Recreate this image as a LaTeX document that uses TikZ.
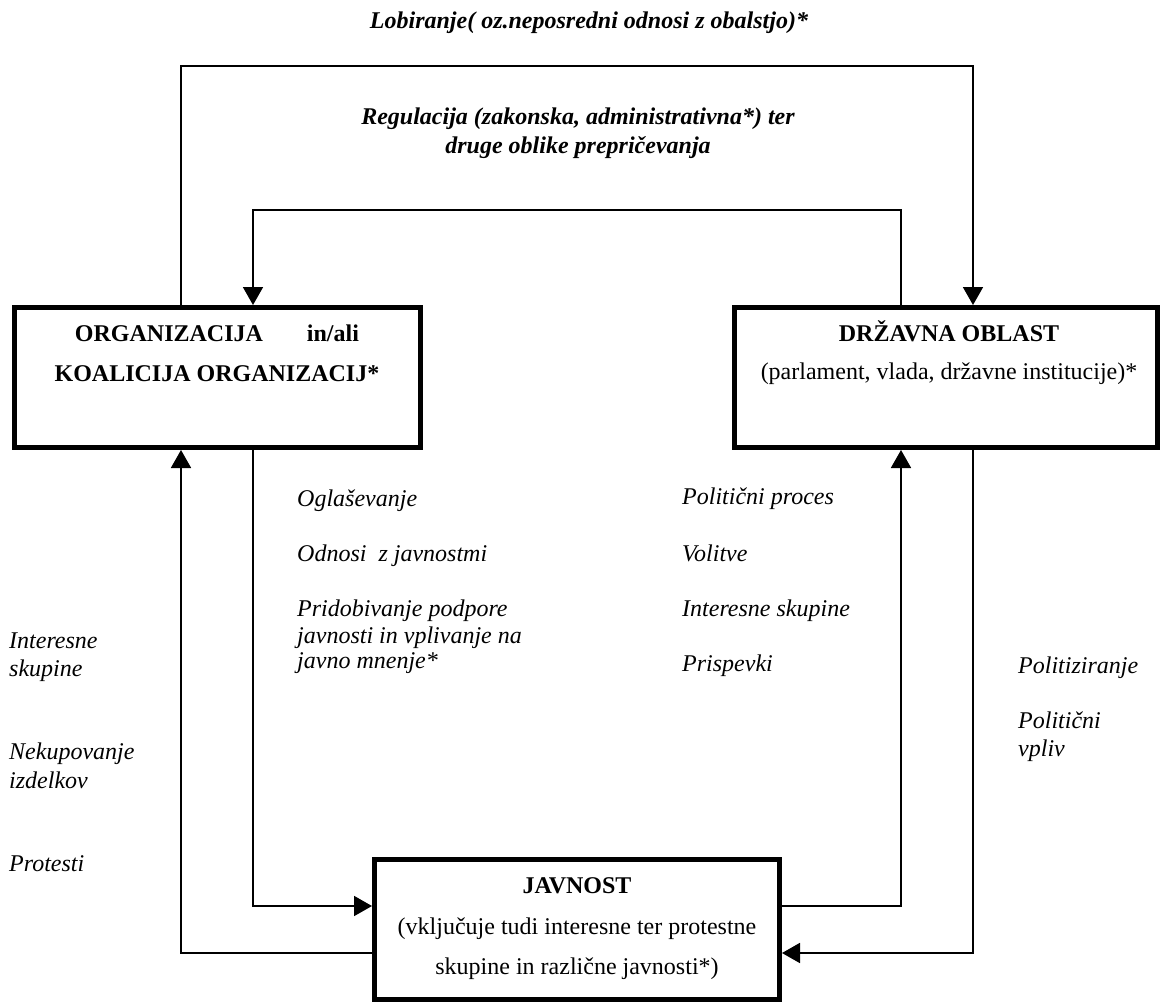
\documentclass[tikz,border=0pt]{standalone}
\usepackage{fontspec}
\setmainfont{Liberation Serif}
\usetikzlibrary{arrows.meta}
\begin{document}
\begin{tikzpicture}[x=1pt,y=-1pt,
  box/.style={draw,line width=5pt,rectangle,inner sep=0pt},
  conn/.style={line width=1.8pt},
  arr/.style={conn,-{Triangle[length=18pt,width=20pt]}},
  lab/.style={font=\fontsize{24}{28}\selectfont\itshape,anchor=base west,inner sep=0pt},
  boxtxt/.style={font=\fontsize{24}{28}\selectfont,anchor=base,inner sep=0pt},
  boxhead/.style={font=\fontsize{24}{28}\selectfont\bfseries,anchor=base,inner sep=0pt},
  titletxt/.style={font=\fontsize{24}{28}\selectfont\bfseries\itshape,anchor=base,inner sep=0pt}]
\useasboundingbox (0,0) rectangle (1163,1002);

% boxes
\node[box,minimum width=406pt,minimum height=140pt] (org) at (217.5,377.5) {};
\node[box,minimum width=423pt,minimum height=140pt] (drz) at (946,377.5) {};
\node[box,minimum width=405pt,minimum height=140pt] (jav) at (577,929.5) {};

% box texts
\node[boxhead] (orgA) at (217,341) {ORGANIZACIJA\hspace{44pt}in/ali};
\node[boxhead] (orgB) at (217,381) {KOALICIJA ORGANIZACIJ*};
\node[boxhead] (drzA) at (949,341) {DRŽAVNA OBLAST};
\node[boxtxt] (drzB) at (949,379) {(parlament, vlada, državne institucije)*};
\node[boxhead] (javA) at (577,893) {JAVNOST};
\node[boxtxt] (javB) at (577,934) {(vključuje tudi interesne ter protestne};
\node[boxtxt] (javC) at (577,974) {skupine in različne javnosti*)};

% top titles
\node[titletxt] (lob) at (589,28) {Lobiranje( oz.neposredni odnosi z obalstjo)*};
\node[titletxt] (regA) at (578,124) {Regulacija (zakonska, administrativna*) ter};
\node[titletxt] (regB) at (578,153) {druge oblike prepričevanja};

% connector corners
\coordinate (tl) at (181,66);
\coordinate (tr) at (973,66);
\coordinate (il) at (253,210);
\coordinate (ir) at (901,210);
\coordinate (bl1) at (253,906);
\coordinate (bl2) at (181,953);
\coordinate (br1) at (901,906);
\coordinate (br2) at (973,953);

\draw[arr] (tl |- org.north) -- (tl) -- (tr) -- (tr |- drz.north);
\draw[arr] (ir |- drz.north) -- (ir) -- (il) -- (il |- org.north);
\draw[arr] (bl1 |- org.south) -- (bl1) -- (bl1 -| jav.west);
\draw[arr] (bl2 -| jav.west) -- (bl2) -- (bl2 |- org.south);
\draw[arr] (br1 -| jav.east) -- (br1) -- (br1 |- drz.south);
\draw[arr] (br2 |- drz.south) -- (br2) -- (br2 -| jav.east);

% italic labels
\node[lab] (l1) at (297,506) {Oglaševanje};
\node[lab] (l2) at (297,561) {Odnosi\ \ z javnostmi};
\node[lab] (l3) at (297,616) {Pridobivanje podpore};
\node[lab] (l4) at (297,643) {javnosti in vplivanje na};
\node[lab] (l5) at (297,668) {javno mnenje*};

\node[lab] (m1) at (9,648) {Interesne};
\node[lab] (m2) at (9,676) {skupine};
\node[lab] (m3) at (9,759) {Nekupovanje};
\node[lab] (m4) at (9,788) {izdelkov};
\node[lab] (m5) at (9,871) {Protesti};

\node[lab] (r1) at (682,504) {Politični proces};
\node[lab] (r2) at (682,561) {Volitve};
\node[lab] (r3) at (682,616) {Interesne skupine};
\node[lab] (r4) at (682,671) {Prispevki};

\node[lab] (s1) at (1018,673) {Politiziranje};
\node[lab] (s2) at (1018,728) {Politični};
\node[lab] (s3) at (1018,756) {vpliv};
\end{tikzpicture}
\end{document}
